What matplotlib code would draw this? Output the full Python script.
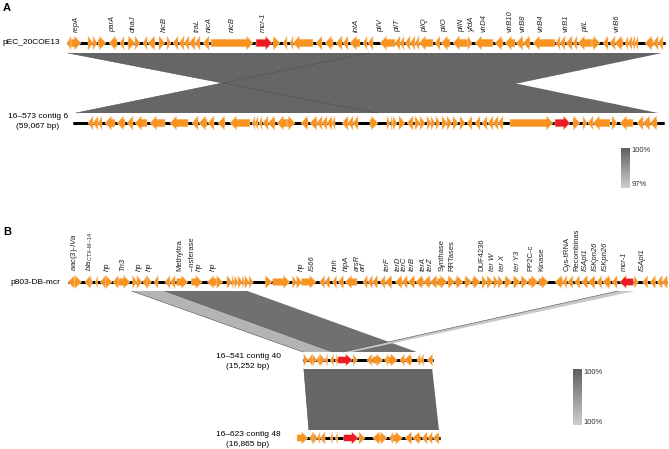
import matplotlib.pyplot as plt
from matplotlib.patches import Polygon, Rectangle
import numpy as np

plt.rcParams['font.family'] = ['Liberation Sans', 'DejaVu Sans']
plt.rcParams['mathtext.fontset'] = 'custom'
plt.rcParams['mathtext.rm'] = 'Liberation Sans'
plt.rcParams['mathtext.it'] = 'Liberation Sans:italic'

# genes: (start kb, end kb, strand)
genes_pec = [
    (0.0, 0.4, -1), (0.4, 1.4, 1), (2.1, 2.6, 1), (2.6, 3.0, 1), (3.1, 3.9, 1),
    (4.2, 5.0, -1), (5.3, 5.7, -1), (6.1, 6.8, 1), (6.8, 7.3, 1), (7.6, 8.0, -1),
    (8.1, 8.8, -1), (9.2, 9.8, 1), (10.0, 10.4, 1), (10.6, 11.1, -1), (11.2, 11.7, -1),
    (11.7, 12.2, -1), (12.2, 12.8, -1), (12.8, 13.3, -1), (13.6, 14.2, -1), (14.4, 18.6, 1),
    (20.6, 21.3, 1), (21.6, 22.0, -1), (22.3, 22.6, -1), (22.6, 24.6, -1),
    (24.9, 25.5, -1), (25.8, 26.6, -1), (26.9, 27.5, -1), (27.6, 28.1, -1), (28.3, 29.3, -1),
    (29.6, 30.0, -1), (30.1, 30.6, -1), (31.3, 32.8, -1), (32.8, 33.3, -1), (33.3, 33.7, -1),
    (33.8, 34.3, -1), (34.3, 34.8, -1), (34.8, 35.2, -1), (35.2, 36.6, -1), (36.8, 37.3, -1),
    (37.4, 38.3, -1), (38.6, 40.1, -1), (40.1, 40.5, 1), (40.8, 42.6, -1), (42.8, 43.6, -1),
    (43.8, 44.8, -1), (44.9, 45.6, -1), (45.6, 46.3, -1), (46.6, 48.8, -1), (48.9, 49.3, -1),
    (49.3, 49.8, -1), (49.9, 50.5, -1), (50.6, 51.0, -1), (51.1, 52.5, -1), (52.5, 53.3, 1),
    (53.6, 54.1, -1), (54.3, 54.8, -1), (54.8, 55.6, -1), (55.8, 56.1, -1), (56.1, 56.5, -1),
    (56.5, 56.8, -1), (56.8, 57.1, -1), (57.8, 58.6, -1), (58.6, 59.1, -1), (59.1, 59.6, -1),
]
mcr_pec = [(18.9, 20.5, 1)]
labels_pec = ["repA", "parA", "dnaJ", "hicB", "traL", "nicA", "nicB", "mcr-1", "intA",
              "pilV", "pilT", "pilQ", "pilO", "pilN", "yfdA", "virD4", "virB10", "virB8",
              "virB4", "virB1", "pilL", "virB6"]
label_pos_pec = [0.9, 4.6, 6.6, 9.7, 13.0, 14.2, 16.5, 19.6, 28.9, 31.4, 33.1, 35.8,
                 37.8, 39.5, 40.5, 41.7, 44.3, 45.6, 47.4, 49.9, 51.9, 55.0]

genes_573 = [
    (1.5, 2.0, -1), (2.0, 2.5, -1), (2.5, 2.9, -1), (3.2, 4.2, -1), (4.4, 5.2, -1),
    (5.4, 6.0, -1), (6.2, 7.4, -1), (7.7, 9.2, -1), (9.7, 11.5, -1), (11.9, 12.5, -1),
    (12.6, 13.4, -1), (13.5, 14.1, -1), (14.5, 15.2, -1), (15.7, 17.7, -1), (17.9, 18.2, -1),
    (18.2, 18.5, -1), (18.6, 18.9, -1), (19.0, 19.5, -1), (19.5, 20.2, -1), (20.4, 21.4, -1),
    (21.4, 22.2, 1), (22.8, 23.5, -1), (23.7, 24.4, -1), (24.4, 24.9, -1), (24.9, 25.4, -1),
    (25.4, 25.9, -1), (25.9, 26.2, -1), (26.9, 27.5, -1), (27.5, 28.0, -1), (28.0, 28.5, -1),
    (29.7, 30.5, 1), (31.4, 31.7, 1), (31.8, 32.0, 1), (32.0, 32.4, 1), (32.6, 33.2, 1),
    (33.4, 34.0, -1), (34.2, 34.7, 1), (34.7, 35.2, 1), (35.4, 35.8, 1), (35.8, 36.2, 1),
    (36.3, 36.7, 1), (36.9, 37.4, 1), (37.4, 37.9, 1), (38.0, 38.5, 1), (38.7, 39.2, 1),
    (39.4, 39.9, -1), (40.2, 40.7, -1), (40.9, 41.4, -1), (41.5, 42.0, -1), (42.0, 42.5, -1),
    (42.5, 43.0, -1), (43.7, 48.0, 1), (50.0, 50.7, 1), (51.0, 51.4, 1), (51.5, 52.0, -1),
    (52.0, 53.7, -1), (53.9, 54.4, 1), (54.7, 56.0, -1), (56.4, 57.0, -1), (57.0, 57.7, -1),
    (57.7, 58.4, -1),
]
mcr_573 = [(48.2, 49.7, 1)]

genes_p803 = [
    (0.0, 0.8, -1), (0.8, 1.6, 1), (2.0, 2.6, -1), (2.6, 2.9, 1), (3.2, 3.5, -1),
    (3.8, 4.4, -1), (4.4, 5.2, 1), (5.3, 5.9, -1), (5.9, 7.3, 1), (7.6, 8.1, 1),
    (8.1, 8.7, 1), (8.8, 9.3, -1), (9.3, 9.8, 1), (10.1, 10.6, -1), (11.4, 12.0, -1),
    (12.0, 12.6, -1), (12.8, 14.1, 1), (14.5, 15.8, 1), (16.4, 17.5, -1), (17.5, 18.2, 1),
    (18.7, 19.3, 1), (19.3, 19.6, 1), (19.6, 20.0, 1), (20.0, 20.5, 1), (20.5, 20.8, 1),
    (20.8, 21.3, 1), (21.3, 21.8, 1), (23.2, 24.0, 1), (24.1, 26.1, 1), (26.4, 26.9, 1),
    (26.9, 27.5, 1), (27.5, 29.2, 1), (29.6, 30.2, -1), (30.2, 30.8, -1), (31.1, 31.6, -1),
    (31.8, 32.4, -1), (32.6, 34.0, -1), (34.7, 35.2, -1), (35.3, 35.8, -1), (35.8, 36.4, -1),
    (36.7, 37.3, -1), (37.3, 38.1, -1), (38.5, 39.3, -1), (39.3, 39.9, -1), (40.0, 40.8, -1),
    (40.9, 41.8, -1), (41.8, 42.6, -1), (42.6, 43.4, -1), (43.5, 44.6, 1), (44.7, 45.5, 1),
    (45.6, 46.5, 1), (46.7, 47.5, 1), (47.6, 48.5, 1), (48.7, 49.3, 1), (49.3, 50.0, 1),
    (50.1, 50.6, 1), (50.6, 51.2, 1), (51.4, 52.2, 1), (52.4, 53.2, 1), (53.3, 54.1, 1),
    (54.2, 55.3, 1), (55.4, 56.5, 1), (57.3, 58.2, -1), (58.2, 58.7, -1), (58.8, 59.4, -1),
    (59.6, 60.2, -1), (60.4, 61.1, -1), (61.2, 62.0, -1), (62.2, 62.8, -1), (62.9, 63.8, -1),
    (64.0, 64.6, -1), (66.6, 67.1, 1), (67.6, 68.2, -1), (68.5, 69.1, -1), (69.3, 69.9, -1),
    (69.9, 70.5, -1),
]
mcr_p803 = [(64.9, 66.5, -1)]
labels_p803 = [r"$aac(3)$-$IVa$", r"$bla_{\mathrm{CTX}\endash\mathrm{M}\endash\mathrm{14}}$", "hp", "Tn3", "hp", "hp",
               "Methyltra", "\u2013nsferase", "hp", "hp", "hp", "IS66", "hnh", "hipA", "arsR",
               "arf", "terF", "terD", "terC", "terB", "terA", "terZ", "Synthase", "RRTases",
               "DUF4236", "ter W", "ter X", "ter Y3", "PP2C-c", "Kinase", "Cys-tRNA",
               "Recombinas", "ISApl1", "ISKpn26", "ISKpn26", "mcr-1", "ISApl1"]
label_pos_p803 = [0.8, 2.6, 4.6, 6.4, 8.4, 9.6, 13.2, 14.6, 15.5, 17.1, 27.5, 28.7, 31.4,
                  32.8, 34.0, 34.7, 37.6, 38.8, 39.6, 40.5, 41.8, 42.6, 44.0, 45.2, 48.7,
                  50.0, 51.1, 52.9, 54.4, 55.8, 58.7, 59.9, 60.9, 62.0, 63.2, 65.5, 67.5]
upright_p803 = {"Methyltra", "\u2013nsferase", "Synthase", "RRTases", "DUF4236", "PP2C-c",
                "Kinase", "Cys-tRNA", "Recombinas"}

genes_541 = [
    (0.1, 0.6, 1), (0.6, 1.1, -1), (1.1, 1.6, 1), (1.6, 2.0, -1), (2.0, 2.6, 1),
    (2.6, 2.9, -1), (3.2, 3.6, -1), (3.8, 4.0, -1), (5.9, 6.4, 1), (7.5, 8.1, -1),
    (8.2, 9.4, 1), (9.6, 10.0, -1), (10.0, 11.1, 1), (11.4, 11.9, -1), (11.9, 12.8, -1),
    (13.4, 13.8, -1), (13.8, 14.2, -1), (14.6, 15.25, -1),
]
mcr_541 = [(4.1, 5.8, 1)]

genes_623 = [
    (0.0, 1.3, 1), (1.5, 1.9, -1), (1.9, 2.4, 1), (2.4, 2.7, -1), (2.7, 3.3, -1),
    (3.9, 4.2, -1), (4.5, 4.8, -1), (7.3, 8.0, 1), (8.9, 9.8, -1), (9.8, 10.6, 1),
    (10.9, 11.3, -1), (11.3, 12.4, 1), (12.7, 13.5, -1), (13.6, 14.5, -1), (14.7, 15.3, -1),
    (15.4, 15.9, -1), (16.0, 16.7, -1),
]
mcr_623 = [(5.5, 7.2, 1)]

# alignments: (top start, top end, bottom start, bottom end) in kb
blocks_a = [(0.1, 30.2, 30.4, 58.5), (30.2, 59.5, 0.3, 30.4)]
blocks_b1 = [(7.5, 11.4, 0.0, 3.5), (11.4, 21.1, 3.5, 13.4)]
blocks_b1_col = ['#b4b4b4', '#707070']
block_mcr = (64.7, 66.7, 4.7, 5.8)
block_b2 = (0.1, 15.2, 1.4, 16.7)

ORANGE = '#F7931E'
RED = '#EC1C24'

fig = plt.figure(figsize=(6.69, 4.49), dpi=100)
ax = fig.add_axes([0, 0, 1, 1])
ax.set_xlim(0, 669)
ax.set_ylim(449, 0)
ax.axis('off')


def draw_track(x0, sc, y, length, genes, color, h=7):
    ax.plot([x0, x0 + length * sc], [y, y], color='black', lw=2.0, solid_capstyle='butt', zorder=2)
    for s, e, d in genes:
        xs, xe = x0 + s * sc, x0 + e * sc
        L = xe - xs
        head = min(L, 6.5)
        bh = h * 0.55
        if d > 0:
            tail, base, tip = xs, xe - head, xe
        else:
            tail, base, tip = xe, xs + head, xs
        if head >= L:
            pts = [(tail, y - h), (tip, y), (tail, y + h)]
        else:
            pts = [(tail, y - bh), (base, y - bh), (base, y - h), (tip, y),
                   (base, y + h), (base, y + bh), (tail, y + bh)]
        ax.add_patch(Polygon(pts, closed=True, facecolor=color, edgecolor='#FAD2A8',
                             lw=0.35, zorder=3))


def draw_band(blk, t, b, y1, y2, color):
    ts, te, bs, be = blk
    tx0, tsc = t
    bx0, bsc = b
    p1, p2 = tx0 + ts * tsc, tx0 + te * tsc
    q1, q2 = bx0 + bs * bsc, bx0 + be * bsc
    pts = [(p1, y1), (p2, y1), (q2, y2), (q1, y2)]
    ax.add_patch(Polygon(pts, closed=True, facecolor=color, edgecolor='none', zorder=1))
    # left edge drawn on top so overlapping blocks still show their outline
    ax.plot([p1, q1], [y1, y2], color='#4f4f4f', lw=0.4, zorder=1.5)


def labels(x0, sc, y, names, pos, upright=()):
    for n, p in zip(names, pos):
        st = 'normal' if n in upright else 'italic'
        ax.text(x0 + p * sc, y, n, rotation=90, ha='center', va='bottom',
                fontsize=5.5, style=st, color='#222222')


def colorbar(x, y1, y2, c_top, c_bot, t_top, t_bot):
    n = 40
    ys = np.linspace(y1, y2, n + 1)
    ct = np.array(plt.matplotlib.colors.to_rgb(c_top))
    cb = np.array(plt.matplotlib.colors.to_rgb(c_bot))
    for i in range(n):
        f = i / (n - 1)
        ax.add_patch(Rectangle((x, ys[i]), 9, ys[i + 1] - ys[i] + 0.3,
                               facecolor=ct * (1 - f) + cb * f, lw=0))
    ax.text(x + 10.5, y1 + 3, t_top, fontsize=5.5, va='center', color='#333333')
    ax.text(x + 10.5, y2 - 3, t_bot, fontsize=5.5, va='center', color='#333333')


# ---- panel A ----
ax.text(3, 8, 'A', fontsize=8, fontweight='bold', va='center')
PEC = (67, 10.0)
S573 = (73, 10.0)
for blk in blocks_a:
    draw_band(blk, PEC, S573, 53, 113, '#666666')
draw_track(PEC[0], PEC[1], 43, 59.8, genes_pec, ORANGE)
draw_track(PEC[0], PEC[1], 43, 59.8, mcr_pec, RED)
labels(PEC[0], PEC[1], 32, labels_pec, label_pos_pec)
draw_track(S573[0], S573[1], 123, 59.067, genes_573, ORANGE)
draw_track(S573[0], S573[1], 123, 59.067, mcr_573, RED)
ax.text(60, 43, 'pEC_20COE13', fontsize=6, ha='right', va='center')
ax.text(38, 116.5, '16\u2013573 contig 6', fontsize=6, ha='center', va='center')
ax.text(38, 127, '(59,067 bp)', fontsize=6, ha='center', va='center')
colorbar(621, 148, 188, '#606060', '#cdcdcd', '100%', '97%')

# ---- panel B ----
ax.text(3, 232, 'B', fontsize=8, fontweight='bold', va='center')
P803 = (68, 8.5)
C541 = (303, 8.5)
C623 = (297, 8.5)
for blk, col in zip(blocks_b1, blocks_b1_col):
    draw_band(blk, P803, C541, 291, 352, col)
draw_band(block_mcr, P803, C541, 291, 352, '#c8c8c8')
draw_band(block_b2, C541, C623, 369, 430, '#666666')
draw_track(P803[0], P803[1], 282, 70.5, genes_p803, ORANGE, h=6.5)
draw_track(P803[0], P803[1], 282, 70.5, mcr_p803, RED, h=6.5)
labels(P803[0], P803[1], 271, labels_p803, label_pos_p803, upright_p803)
draw_track(C541[0], C541[1], 360, 15.252, genes_541, ORANGE, h=6)
draw_track(C541[0], C541[1], 360, 15.252, mcr_541, RED, h=6)
draw_track(C623[0], C623[1], 438, 16.865, genes_623, ORANGE, h=6)
draw_track(C623[0], C623[1], 438, 16.865, mcr_623, RED, h=6)
ax.text(60, 282, 'p803-DB-mcr', fontsize=6, ha='right', va='center')
ax.text(248, 356, '16\u2013541 contig 40', fontsize=6, ha='center', va='center')
ax.text(248, 366, '(15,252 bp)', fontsize=6, ha='center', va='center')
ax.text(248, 434, '16\u2013623 contig 48', fontsize=6, ha='center', va='center')
ax.text(248, 444, '(16,865 bp)', fontsize=6, ha='center', va='center')
colorbar(573, 369, 425, '#606060', '#cdcdcd', '100%', '100%')

fig.savefig('out.png', dpi=100)
